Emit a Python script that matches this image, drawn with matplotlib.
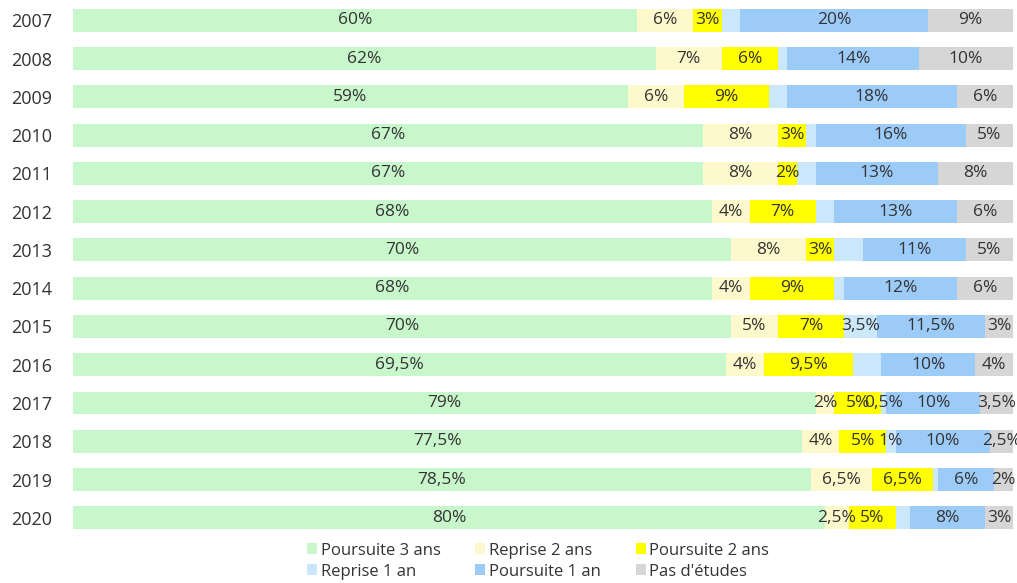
import matplotlib.pyplot as plt
import numpy as np

years = ['2007', '2008', '2009', '2010', '2011', '2012', '2013',
         '2014', '2015', '2016', '2017', '2018', '2019', '2020']

poursuite_3 = [60, 62, 59, 67, 67, 68, 70, 68, 70, 69.5, 79, 77.5, 78.5, 80]
reprise_2 = [6, 7, 6, 8, 8, 4, 8, 4, 5, 4, 2, 4, 6.5, 2.5]
poursuite_2 = [3, 6, 9, 3, 2, 7, 3, 9, 7, 9.5, 5, 5, 6.5, 5]
reprise_1 = [2, 1, 2, 1, 2, 2, 3, 1, 3.5, 3, 0.5, 1, 0.5, 1.5]
poursuite_1 = [20, 14, 18, 16, 13, 13, 11, 12, 11.5, 10, 10, 10, 6, 8]
pas_etudes = [9, 10, 6, 5, 8, 6, 5, 6, 3, 4, 3.5, 2.5, 2, 3]

series_names = ['Poursuite 3 ans', 'Reprise 2 ans', 'Poursuite 2 ans',
                'Reprise 1 an', 'Poursuite 1 an', "Pas d'études"]
colors = ['#c8f7cc', '#fdf9cc', '#ffff00', '#cbe7fb', '#9dcbf8', '#d6d6d6']

# which Reprise 1 an labels are printed in the original
reprise_1_shown = [False] * 8 + [True, False, True, True, False, False]

FONT = 'Open Sans'
TXT = '#333333'

def fmt(v):
    return f'{v:g}%'.replace('.', ',')

fig = plt.figure(figsize=(10.17, 5.83), dpi=100)
ax = fig.add_axes([0.0718, 0.079, 0.9243, 0.919])

all_series = [poursuite_3, reprise_2, poursuite_2, reprise_1, poursuite_1, pas_etudes]
y = np.arange(len(years))
left = np.zeros(len(years))
handles = []
for k, (vals, name, col) in enumerate(zip(all_series, series_names, colors)):
    vals = np.array(vals, dtype=float)
    b = ax.barh(y, vals, left=left, height=0.6, color=col, label=name)
    handles.append(b)
    for i, v in enumerate(vals):
        if k == 3 and not reprise_1_shown[i]:
            continue
        ax.text(left[i] + v / 2, y[i], fmt(v), ha='center', va='center',
                fontsize=12.5, color=TXT, family=FONT)
    left += vals

ax.set_xlim(0, 100)
ax.set_ylim(len(years) - 0.5, -0.5)
ax.set_yticks(y)
ax.set_yticklabels(years, fontsize=13, color=TXT, family=FONT)
ax.tick_params(axis='y', length=0, pad=15)
ax.set_xticks([])
for s in ax.spines.values():
    s.set_visible(False)

# legend fills column-wise, reorder so rows read like the original
order = [0, 3, 1, 4, 2, 5]
leg = fig.legend([handles[i] for i in order], [series_names[i] for i in order],
                 loc='lower center', bbox_to_anchor=(0.529, -0.02), ncol=3,
                 frameon=False, handlelength=0.6, handleheight=0.6,
                 handletextpad=0.2, columnspacing=2.1, labelspacing=0.3,
                 prop={'family': FONT, 'size': 12})
for t in leg.get_texts():
    t.set_color(TXT)

plt.savefig('out.png', dpi=100)
